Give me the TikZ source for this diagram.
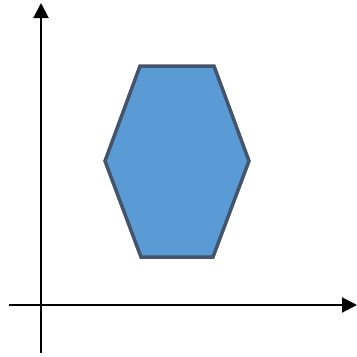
\documentclass[tikz,border=0pt]{standalone}
\usetikzlibrary{arrows.meta}
\definecolor{hexfill}{HTML}{5B9BD5}
\definecolor{hexline}{HTML}{44546A}
\tikzset{
  axis/.style={line width=2pt, black, -{Triangle[length=15pt,width=15pt]}},
  hexa/.style={fill=hexfill, draw=hexline, line width=3.5pt, line join=miter}
}
\begin{document}
\begin{tikzpicture}[x=1pt,y=-1pt]
\useasboundingbox (0,0) rectangle (357,357);
\coordinate (yb) at (41,353);
\coordinate (yt) at (41,3);
\coordinate (xl) at (9,305);
\coordinate (xr) at (357,305);
\draw[axis] (yb) -- (yt);
\draw[axis] (xl) -- (xr);
\coordinate (h1) at (140,66);
\coordinate (h2) at (214,66);
\coordinate (h3) at (249,161);
\coordinate (h4) at (213,257);
\coordinate (h5) at (141,257);
\coordinate (h6) at (105,161);
\draw[hexa] (h1) -- (h2) -- (h3) -- (h4) -- (h5) -- (h6) -- cycle;
\end{tikzpicture}
\end{document}
